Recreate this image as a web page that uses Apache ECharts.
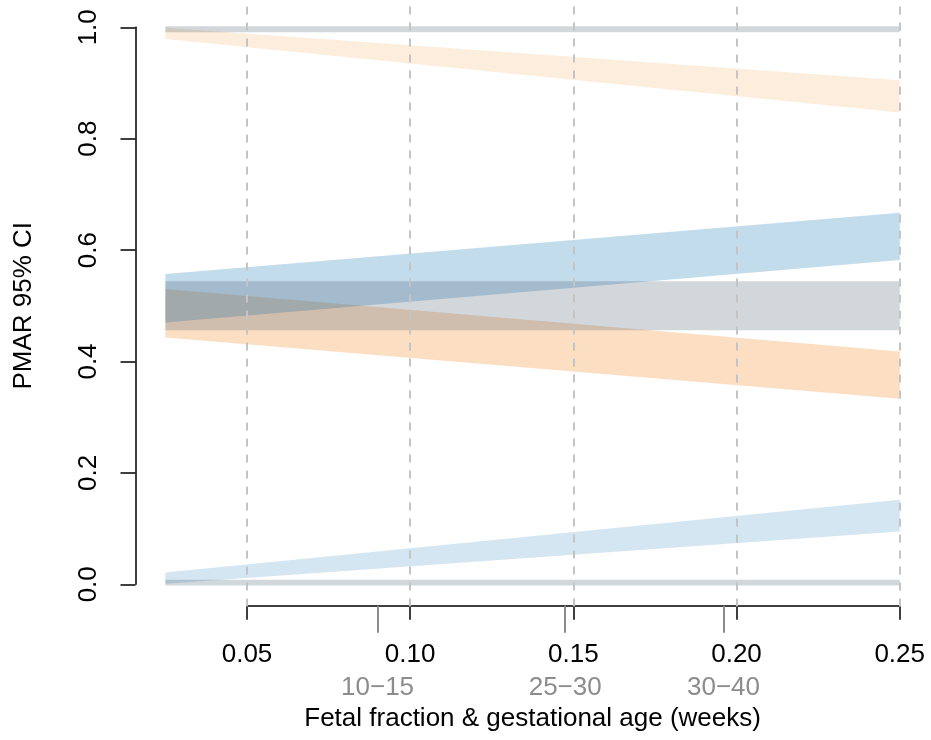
<!DOCTYPE html>
<html>
<head>
<meta charset="utf-8">
<script src="https://cdn.jsdelivr.net/npm/echarts@6/dist/echarts.min.js"></script>
<style>
  html, body { margin: 0; padding: 0; background: #fff; }
  #chart { width: 931px; height: 740px; }
</style>
</head>
<body>
<div id="chart"></div>
<script>
// band x positions (fetal fraction)
const bandX = [0.025, 0.25];

// 95% CI bands, lower / upper bounds at each bandX
const orangeTopLow = [0.979, 0.847];
const orangeTopHigh = [0.999, 0.905];
const orangeMidLow = [0.443, 0.333];
const orangeMidHigh = [0.530, 0.418];
const blueMidLow = [0.470, 0.582];
const blueMidHigh = [0.557, 0.667];
const blueLowLow = [0.001, 0.095];
const blueLowHigh = [0.021, 0.152];
const greyTopLow = [0.991, 0.991];
const greyTopHigh = [1.002, 1.002];
const greyMidLow = [0.456, 0.456];
const greyMidHigh = [0.544, 0.544];
const greyBotLow = [-0.002, -0.002];
const greyBotHigh = [0.008, 0.008];

// vertical dashed reference lines
const gridLinesX = [0.05, 0.10, 0.15, 0.20, 0.25];

// gestational age ticks under the axis
const ageTicks = [0.09, 0.1475, 0.196];
const ageLabels = ['10−15', '25−30', '30−40'];

const FONT = '"Liberation Sans", Arial, Helvetica, sans-serif';
const FS = 26;

function band(lo, hi, color) {
  const rows = bandX.map((x, i) => [x, lo[i], hi[i]]);
  return {
    type: 'custom',
    xAxisIndex: 0,
    yAxisIndex: 0,
    silent: true,
    data: rows,
    encode: { x: 0, y: [1, 2] },
    renderItem: function (params, api) {
      const i = params.dataIndex;
      if (i >= rows.length - 1) return;
      const a = rows[i], b = rows[i + 1];
      return {
        type: 'polygon',
        shape: {
          points: [
            api.coord([a[0], a[1]]),
            api.coord([b[0], b[1]]),
            api.coord([b[0], b[2]]),
            api.coord([a[0], a[2]])
          ]
        },
        style: { fill: color }
      };
    }
  };
}

const chart = echarts.init(document.getElementById('chart'), null, { renderer: 'canvas' });

const orangeLight = 'rgba(245,140,40,0.16)';
const orange = 'rgba(245,140,40,0.28)';
const blue = 'rgba(41,128,185,0.28)';
const blueLight = 'rgba(41,128,185,0.2)';
const grey = 'rgba(52,73,94,0.22)';

const option = {
  animation: false,
  backgroundColor: '#ffffff',
  textStyle: { fontFamily: FONT },
  grid: [
    // plot region
    { left: 136, right: 1.8, top: 5, bottom: 133.4 },
    // y axis
    { left: 135.5, width: 10, top: 27.3, bottom: 155.7 },
    // x axis
    { left: 247, right: 31.3, bottom: 134.3, height: 10 },
    // gestational age ticks
    { left: 247, right: 31.3, bottom: 134.3, height: 10 }
  ],
  xAxis: [
    {
      gridIndex: 0, type: 'value', min: 0.016, max: 0.259,
      axisLine: { show: false }, axisTick: { show: false },
      axisLabel: { show: false }, splitLine: { show: false },
      name: 'Fetal fraction & gestational age (weeks)',
      nameLocation: 'middle', nameGap: 99.5,
      nameTextStyle: { fontSize: FS, color: '#000', fontFamily: FONT }
    },
    {
      gridIndex: 1, type: 'value', show: false
    },
    {
      gridIndex: 2, type: 'value', min: 0.05, max: 0.25, interval: 0.05,
      axisLine: { lineStyle: { color: '#000', width: 1.5 } },
      axisTick: { length: 14, lineStyle: { color: '#000', width: 1.5 } },
      axisLabel: {
        margin: 36.5, fontSize: FS, color: '#000', fontFamily: FONT,
        formatter: v => v.toFixed(2)
      },
      splitLine: { show: false }
    },
    {
      gridIndex: 3, type: 'value', min: 0.05, max: 0.25,
      axisLine: { show: false },
      axisTick: { customValues: ageTicks, length: 27, lineStyle: { color: '#8c8c8c', width: 2 } },
      axisLabel: {
        customValues: ageTicks, margin: 69, fontSize: FS, color: '#8c8c8c', fontFamily: FONT,
        formatter: v => ageLabels[ageTicks.indexOf(v)]
      },
      splitLine: { show: false }
    }
  ],
  yAxis: [
    {
      gridIndex: 0, type: 'value', min: -0.04, max: 1.04,
      axisLine: { show: false }, axisTick: { show: false },
      axisLabel: { show: false }, splitLine: { show: false },
      name: 'PMAR 95% CI', nameLocation: 'middle', nameRotate: 90, nameGap: 99,
      nameTextStyle: { fontSize: FS, color: '#000', fontFamily: FONT }
    },
    {
      gridIndex: 1, type: 'value', min: 0, max: 1, interval: 0.2,
      axisLine: { show: true, lineStyle: { color: '#000', width: 1.5 } },
      axisTick: { show: true, length: 15, lineStyle: { color: '#000', width: 1.5 } },
      axisLabel: {
        rotate: 90, margin: 34, fontSize: FS, color: '#000', fontFamily: FONT,
        formatter: v => v.toFixed(1)
      },
      splitLine: { show: false }
    },
    { gridIndex: 2, type: 'value', show: false },
    { gridIndex: 3, type: 'value', show: false }
  ],
  series: [
    {
      type: 'line',
      xAxisIndex: 0,
      yAxisIndex: 0,
      data: [],
      silent: true,
      markLine: {
        silent: true,
        symbol: 'none',
        label: { show: false },
        lineStyle: { color: '#c4c4c4', width: 2, type: [8, 8] },
        data: gridLinesX.map(x => ({ xAxis: x }))
      }
    },
    band(orangeTopLow, orangeTopHigh, orangeLight),
    band(orangeMidLow, orangeMidHigh, orange),
    band(blueMidLow, blueMidHigh, blue),
    band(blueLowLow, blueLowHigh, blueLight),
    band(greyTopLow, greyTopHigh, grey),
    band(greyMidLow, greyMidHigh, grey),
    band(greyBotLow, greyBotHigh, grey)
  ]
};

chart.setOption(option);
</script>
</body>
</html>
